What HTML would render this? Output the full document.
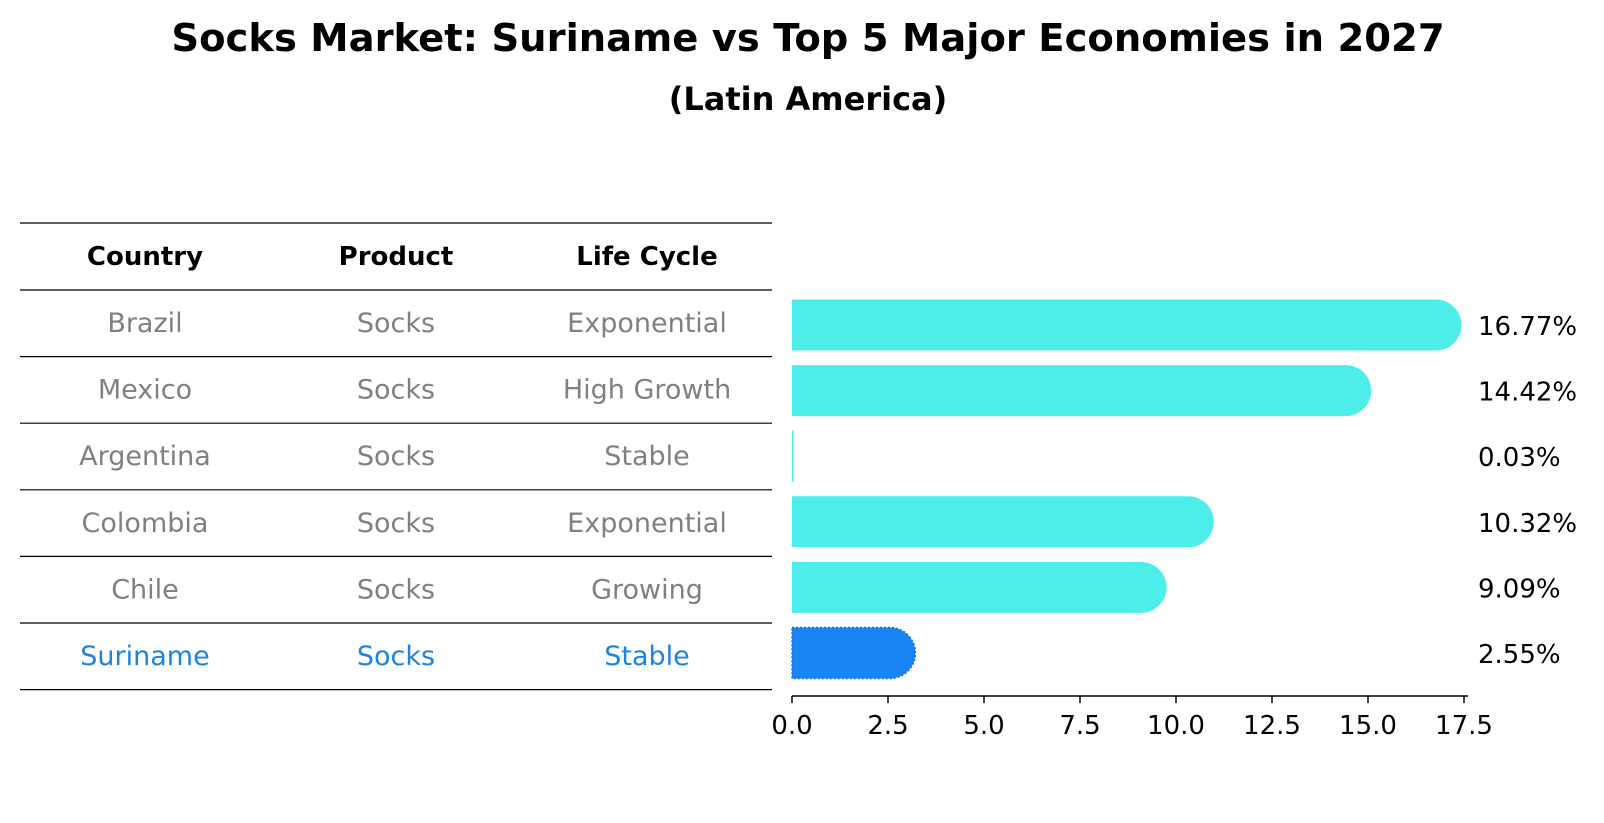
<!DOCTYPE html>
<html><head><meta charset="utf-8"><style>
html,body{margin:0;padding:0;background:#fff;}
svg{display:block;font-family:"DejaVu Sans","Liberation Sans",sans-serif;}
</style></head><body>
<svg id="c" width="1604" height="823" viewBox="0 0 1604 823">
<text x="808" y="51" text-anchor="middle" font-size="38.5" font-weight="bold">Socks Market: Suriname vs Top 5 Major Economies in 2027</text>
<text x="808" y="110" text-anchor="middle" font-size="32" font-weight="bold">(Latin America)</text>
<g id="table"></g>
<g id="bars"></g>
</svg>
<script>
const countries=["Brazil","Mexico","Argentina","Colombia","Chile","Suriname"];
const products=["Socks","Socks","Socks","Socks","Socks","Socks"];
const lifecycles=["Exponential","High Growth","Stable","Exponential","Growing","Stable"];
const values=[16.77,14.42,0.03,10.32,9.09,2.55];
const ticks=[0,2.5,5,7.5,10,12.5,15,17.5];
const tickLabels=["0.0","2.5","5.0","7.5","10.0","12.5","15.0","17.5"];
const NS="http://www.w3.org/2000/svg";
function mk(t,a,p){const e=document.createElementNS(NS,t);for(const k in a)e.setAttribute(k,a[k]);p.appendChild(e);return e;}
const tbl=document.getElementById('table'),bars=document.getElementById('bars');
const rowY=i=>290+i*66.6;
const colX=[145,396,647];
for(let i=0;i<=7;i++){const y=i===0?223:rowY(i-1);
 const l=mk('line',{x1:20,x2:772,y1:y,y2:y,stroke:'#000','stroke-width':1.2},tbl);
 
 }
["Country","Product","Life Cycle"].forEach((h,j)=>{const t=mk('text',{x:colX[j],y:265,'text-anchor':'middle','font-size':26,'font-weight':'bold'},tbl);t.textContent=h;
 
 });
countries.forEach((c,i)=>{const col=i===5?'#1a84e0':'#808080';
 [c,products[i],lifecycles[i]].forEach((v,j)=>{const t=mk('text',{x:colX[j],y:rowY(i)+42,'text-anchor':'middle','font-size':27,fill:col},tbl);t.textContent=v;
 
 });});
const x0=792,ppu=38.4,xs=v=>x0+v*ppu;
const bh=51,cy=i=>325+i*65.6;
values.forEach((v,i)=>{const y=cy(i)-bh/2,w=xs(v)-x0,r=bh/2;const fill=i===5?'#1a84f2':'#4deeea';
 let d;
 if(w<2){d=`M${x0} ${y}h${Math.max(w,1.5)}v${bh}h${-Math.max(w,1.5)}Z`;}
 else d=`M${x0} ${y}H${x0+w}A${r} ${r} 0 0 1 ${x0+w} ${y+bh}H${x0}Z`;
 const p=mk('path',{d:d,fill:fill},bars);
 if(i===5){p.setAttribute('stroke','#1570d0');p.setAttribute('stroke-dasharray','2 2');p.setAttribute('stroke-width','1.5');}
 
 
 const t=mk('text',{x:1478,y:cy(i)+10,'font-size':26},bars);t.textContent=v.toFixed(2)+'%';
 
 });
const ay=696;
const ax=mk('line',{x1:x0,x2:1468,y1:ay,y2:ay,stroke:'#000','stroke-width':1.5},bars);


ticks.forEach((v,i)=>{mk('line',{x1:xs(v),x2:xs(v),y1:ay,y2:ay+7,stroke:'#000','stroke-width':1.5},bars);
 const t=mk('text',{x:xs(v),y:ay+38,'text-anchor':'middle','font-size':26},bars);t.textContent=tickLabels[i];
 
 });
</script>
</body></html>
